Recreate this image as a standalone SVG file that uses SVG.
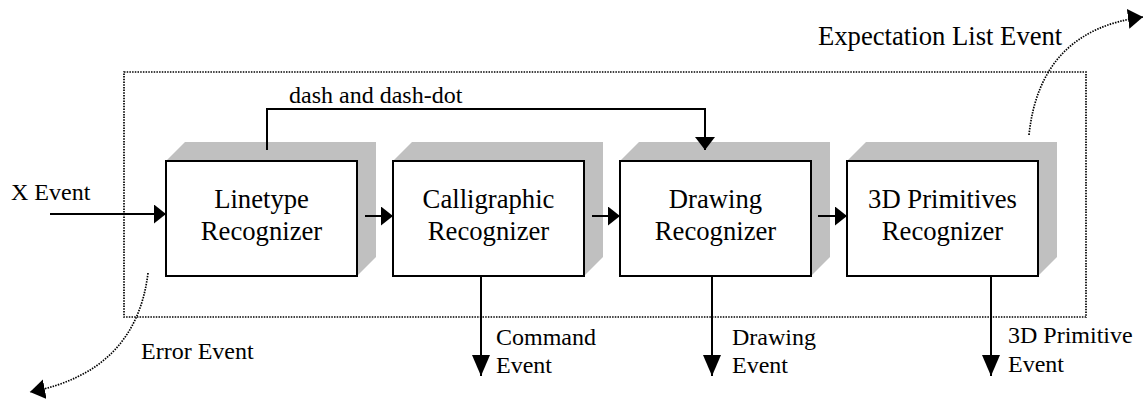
<svg xmlns="http://www.w3.org/2000/svg" width="1145" height="405" viewBox="0 0 1145 405">
  <defs>
    <style>
      .box { fill: #ffffff; stroke: #000000; stroke-width: 2; }
      .shadow { fill: #c0c0c0; stroke: none; }
      .lbl { font-family: "Liberation Serif", "Times New Roman", serif; font-size: 26.67px; fill: #000000; text-anchor: middle; }
      .txt { font-family: "Liberation Serif", "Times New Roman", serif; font-size: 24px; fill: #000000; }
      .big { font-size: 26.67px; }
      .conn { fill: none; stroke: #000000; stroke-width: 2; }
      .dot { fill: none; stroke: #000000; stroke-width: 1.7; stroke-dasharray: 1.5 1.2; }
    </style>
    <marker id="ahR" markerUnits="userSpaceOnUse" markerWidth="12" markerHeight="19" refX="12" refY="9.5" orient="auto">
      <path d="M0,0 L12,9.5 L0,19 Z" fill="#000"/>
    </marker>
    <marker id="ahD" markerUnits="userSpaceOnUse" markerWidth="21" markerHeight="18" refX="21" refY="9" orient="auto">
      <path d="M0,0 L21,9 L0,18 Z" fill="#000"/>
    </marker>
    <marker id="ahS" markerUnits="userSpaceOnUse" markerWidth="13" markerHeight="20" refX="13" refY="10" orient="auto">
      <path d="M0,0 L13,10 L0,20 Z" fill="#000"/>
    </marker>
    <marker id="ahC" markerUnits="userSpaceOnUse" markerWidth="15" markerHeight="20" refX="15" refY="10" orient="auto">
      <path d="M0,0 L15,10 L0,20 Z" fill="#000"/>
    </marker>
  </defs>

  <rect id="container" class="dot" x="124" y="72" width="962" height="245"/>

  <g id="node-linetype">
    <polygon class="shadow" points="166,161 185,142 376,142 376,257 357,276"/>
    <rect class="box" x="166" y="161" width="191" height="115"/>
    <text class="lbl" x="261.5" y="208">Linetype</text>
    <text class="lbl" x="261.5" y="240">Recognizer</text>
  </g>

  <g id="node-calligraphic">
    <polygon class="shadow" points="393,161 412,142 603,142 603,257 584,276"/>
    <rect class="box" x="393" y="161" width="191" height="115"/>
    <text class="lbl" x="488.5" y="208">Calligraphic</text>
    <text class="lbl" x="488.5" y="240">Recognizer</text>
  </g>

  <g id="node-drawing">
    <polygon class="shadow" points="620,161 639,142 830,142 830,257 811,276"/>
    <rect class="box" x="620" y="161" width="191" height="115"/>
    <text class="lbl" x="715.5" y="208">Drawing</text>
    <text class="lbl" x="715.5" y="240">Recognizer</text>
  </g>

  <g id="node-3d">
    <polygon class="shadow" points="847,161 866,142 1057,142 1057,257 1038,276"/>
    <rect class="box" x="847" y="161" width="191" height="115"/>
    <text class="lbl" x="942.5" y="208">3D Primitives</text>
    <text class="lbl" x="942.5" y="240">Recognizer</text>
  </g>

  <g id="connectors">
    <path class="conn" d="M50,214 L166,214" marker-end="url(#ahR)"/>
    <path class="conn" d="M365,216 L393,216" marker-end="url(#ahR)"/>
    <path class="conn" d="M592,216 L620,216" marker-end="url(#ahR)"/>
    <path class="conn" d="M818,216 L847,216" marker-end="url(#ahR)"/>
    <path class="conn" d="M267,150 L267,109 L705,109 L705,150" marker-end="url(#ahS)"/>
    <path class="conn" d="M481,276 L481,376" marker-end="url(#ahD)"/>
    <path class="conn" d="M712,276 L712,376" marker-end="url(#ahD)"/>
    <path class="conn" d="M991,276 L991,376" marker-end="url(#ahD)"/>
    <path class="dot" d="M148,273 Q136,372 30,392" marker-end="url(#ahC)"/>
    <path class="dot" d="M1029,135 Q1040,30 1143,17" marker-end="url(#ahC)"/>
  </g>

  <g id="labels">
    <text class="txt" x="11" y="200">X Event</text>
    <text class="txt" x="289" y="103">dash and dash-dot</text>
    <text class="txt big" x="818" y="45">Expectation List Event</text>
    <text class="txt" x="141" y="359">Error Event</text>
    <text class="txt" x="496" y="345">Command</text>
    <text class="txt" x="496" y="373">Event</text>
    <text class="txt" x="732" y="345">Drawing</text>
    <text class="txt" x="732" y="373">Event</text>
    <text class="txt" x="1008" y="343">3D Primitive</text>
    <text class="txt" x="1008" y="372">Event</text>
  </g>
</svg>
